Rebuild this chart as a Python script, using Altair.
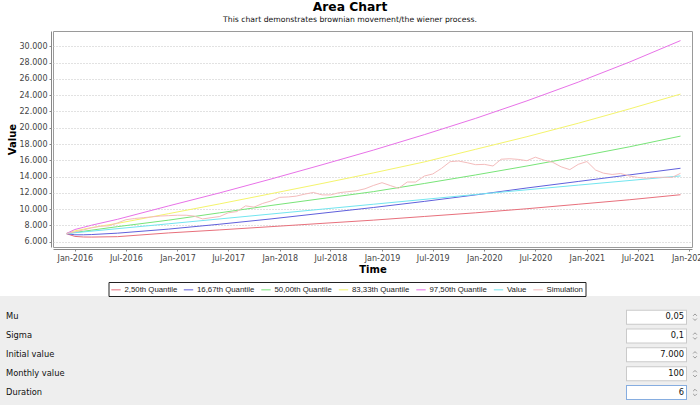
import altair as alt
import pandas as pd

# ---------------- data ----------------
series_names = ["2,50th Quantile", "16,67th Quantile", "50,00th Quantile",
                "83,33th Quantile", "97,50th Quantile", "Value", "Simulation"]
series_colors = ["#e8707c", "#6060dc", "#78e478", "#f4f46c", "#e872e8", "#72e6f0", "#f4bcbc"]

start_month = "2015-12-01"   # month 0 of the simulation

# months (since Dec-2015) at which the quantile curves were read
q_months = [0, 1, 2, 3, 6, 12, 18, 24, 30, 36, 42, 48, 54, 60, 66, 72]
q_025 = [7000, 6650, 6580, 6570, 6620, 7080, 7450, 7850, 8250, 8650, 9100, 9550, 10050, 10600, 11150, 11770]
q_1667 = [7000, 6850, 6850, 6880, 7050, 7550, 8150, 8800, 9500, 10200, 10950, 11750, 12600, 13400, 14200, 15020]
q_50 = [7000, 7150, 7280, 7420, 7850, 8650, 9550, 10450, 11300, 12150, 13150, 14200, 15300, 16450, 17650, 18970]
q_8333 = [7000, 7330, 7540, 7740, 8250, 9450, 10650, 11900, 13150, 14450, 15800, 17350, 18900, 20550, 22300, 24130]
q_975 = [7000, 7500, 7770, 8030, 8750, 10400, 12000, 13700, 15450, 17250, 19150, 21150, 23300, 25600, 28050, 30700]

value_months = [0, 12, 24, 36, 48, 60, 72]
value_line = [7000, 8200, 9400, 10600, 11800, 12950, 14080]

sim_months = list(range(73))
sim_values = [7000, 7200, 7450, 7700, 7900, 7950, 8300, 8700, 8850, 8950, 9050, 9150,
              9200, 9250, 9250, 9150, 8800, 8950, 9100, 9550, 9700, 10400, 10250, 10700,
              11000, 11450, 11500, 11600, 11850, 12050, 11750, 11750, 12020, 12140, 12250, 12500,
              12900, 13250, 12880, 12560, 13330, 13330, 14070, 14320, 15000, 15830, 15910, 15700,
              15460, 15500, 15300, 16130, 16190, 16110, 15950, 16380, 16020, 15750, 15200, 14850,
              15500, 15850, 14800, 14420, 14260, 14380, 14080, 13900, 13800, 13900, 13910, 13900,
              14400]

y_ticks = list(range(6000, 30001, 2000))
x_tick_dates = [(2016, 1), (2016, 7), (2017, 1), (2017, 7), (2018, 1), (2018, 7), (2019, 1),
                (2019, 7), (2020, 1), (2020, 7), (2021, 1), (2021, 7), (2022, 1)]

title_text = "Area Chart"
subtitle_text = "This chart demonstrates brownian movement/the wiener process."

form_labels = ["Mu", "Sigma", "Initial value", "Monthly value", "Duration"]
form_values = ["0,05", "0,1", "7.000", "100", "6"]
form_focused = "Duration"

# ---------------- build table ----------------
base_ts = pd.Timestamp(start_month)


def to_dates(months):
    return [(base_ts + pd.DateOffset(months=m)).strftime("%Y-%m-%d") for m in months]


series_data = [
    (series_names[0], q_months, q_025),
    (series_names[1], q_months, q_1667),
    (series_names[2], q_months, q_50),
    (series_names[3], q_months, q_8333),
    (series_names[4], q_months, q_975),
    (series_names[5], value_months, value_line),
    (series_names[6], sim_months, sim_values),
]
rows = []
for idx, (name, months, vals) in enumerate(series_data):
    for d, v in zip(to_dates(months), vals):
        rows.append({"date": d, "value": v, "series": name, "k": idx})
df = pd.DataFrame(rows)

FONT = "DejaVu Sans"

x_enc = alt.X(
    "date:T",
    scale=alt.Scale(type="utc", domain=[alt.DateTime(year=2015, month=10, date=15, utc=True),
                                        alt.DateTime(year=2022, month=1, date=11, utc=True)]),
    axis=alt.Axis(values=[alt.DateTime(year=y, month=m, date=1, utc=True) for y, m in x_tick_dates],
                  format="%b-%Y", grid=False, offset=2, tickSize=2, tickColor="#888",
                  domainColor="#888", labelFont=FONT, labelFontSize=8, labelColor="#444",
                  labelPadding=3, labelFlush=False, labelOverlap=False,
                  title="Time", titleFont=FONT, titleFontSize=10, titleFontWeight="bold",
                  titleColor="#000", titleX=319.5, titleY=23.5, titleBaseline="alphabetic",
                  titleAlign="center"),
)
y_enc = alt.Y(
    "value:Q",
    scale=alt.Scale(domain=[5350, 31880], nice=False, zero=False),
    axis=alt.Axis(values=y_ticks, labelExpr="replace(format(datum.value, ','), ',', '.')",
                  grid=True, gridColor="#c4c4c4", gridDash=[1, 2], gridWidth=1,
                  offset=2, tickSize=2, tickColor="#888", domainColor="#888",
                  labelFont=FONT, labelFontSize=8, labelColor="#444", labelPadding=2,
                  title="Value", titleFont=FONT, titleFontSize=10, titleFontWeight="bold",
                  titleColor="#000", titleAngle=270, titleX=-39, titleY=108,
                  titleAlign="center", titleBaseline="middle"),
)

lines = alt.Chart(df).mark_line(strokeWidth=1).encode(
    x=x_enc,
    y=y_enc,
    color=alt.Color("series:N",
                    scale=alt.Scale(domain=series_names, range=series_colors),
                    legend=alt.Legend(title=None, orient="none", legendX=55.5, legendY=251,
                                      direction="horizontal", columns=7,
                                      symbolType="stroke", symbolSize=88, symbolStrokeWidth=1,
                                      labelFont="Liberation Sans", labelFontSize=7.8,
                                      labelColor="#222", labelOffset=3, columnPadding=3.5,
                                      strokeColor="#222", padding=2, labelLimit=300)),
    order=alt.Order("k:Q"),
)

one = pd.DataFrame({"a": [0]})

form_bg = alt.Chart(one).mark_rect(color="#eeeeee").encode(
    x=alt.value(-53), x2=alt.value(647), y=alt.value(265), y2=alt.value(374))

titles = alt.Chart(pd.DataFrame({"t": [title_text]})).mark_text(
    font=FONT, fontSize=12.3, fontWeight="bold", color="#000", align="center",
    baseline="alphabetic").encode(x=alt.value(297), y=alt.value(-20.5), text="t:N")
subtitle = alt.Chart(pd.DataFrame({"t": [subtitle_text]})).mark_text(
    font=FONT, fontSize=7.7, color="#111", align="center",
    baseline="alphabetic").encode(x=alt.value(297), y=alt.value(-8.7), text="t:N")

form_df = pd.DataFrame({"label": form_labels, "val": form_values})
fbase = alt.Chart(form_df).encode(
    y=alt.Y("label:N", sort=form_labels,
            scale=alt.Scale(type="point", domain=form_labels, range=[286.2, 361.5], padding=0),
            axis=None))
f_labels = fbase.mark_text(font=FONT, fontSize=8.3, color="#111", align="left",
                           baseline="middle").encode(x=alt.value(-47), text="label:N")
f_border = fbase.mark_rule(strokeWidth=15, strokeCap="butt").encode(
    x=alt.value(573), x2=alt.value(634),
    color=alt.condition(f"datum.label === '{form_focused}'", alt.value("#86ade0"), alt.value("#cacaca")))
f_fill = fbase.mark_rule(strokeWidth=13, strokeCap="butt", color="white").encode(
    x=alt.value(574), x2=alt.value(633))
f_vals = fbase.mark_text(font=FONT, fontSize=8.3, color="#111", align="right",
                         baseline="middle").encode(x=alt.value(631), text="val:N")
f_up = fbase.mark_point(shape="M-1,0.6L0,-0.4L1,0.6", size=14, filled=False, strokeWidth=1,
                        color="#777", yOffset=-2.5).encode(x=alt.value(642))
f_down = fbase.mark_point(shape="M-1,-0.6L0,0.4L1,-0.6", size=14, filled=False, strokeWidth=1,
                          color="#777", yOffset=2.5).encode(x=alt.value(642))
form = alt.layer(f_border, f_fill, f_labels, f_vals, f_up, f_down)

chart = alt.layer(form_bg, lines, titles, subtitle, form).resolve_scale(
    y="independent"
).properties(
    width=639, height=216,
    padding={"left": 53, "top": 31, "right": 8, "bottom": 158},
    autosize=alt.AutoSizeParams(type="none"),
    background="white",
).configure_view(stroke="#9a9a9a", strokeWidth=1)

chart.save("out.html", embed_options={"renderer": "svg", "actions": False})
